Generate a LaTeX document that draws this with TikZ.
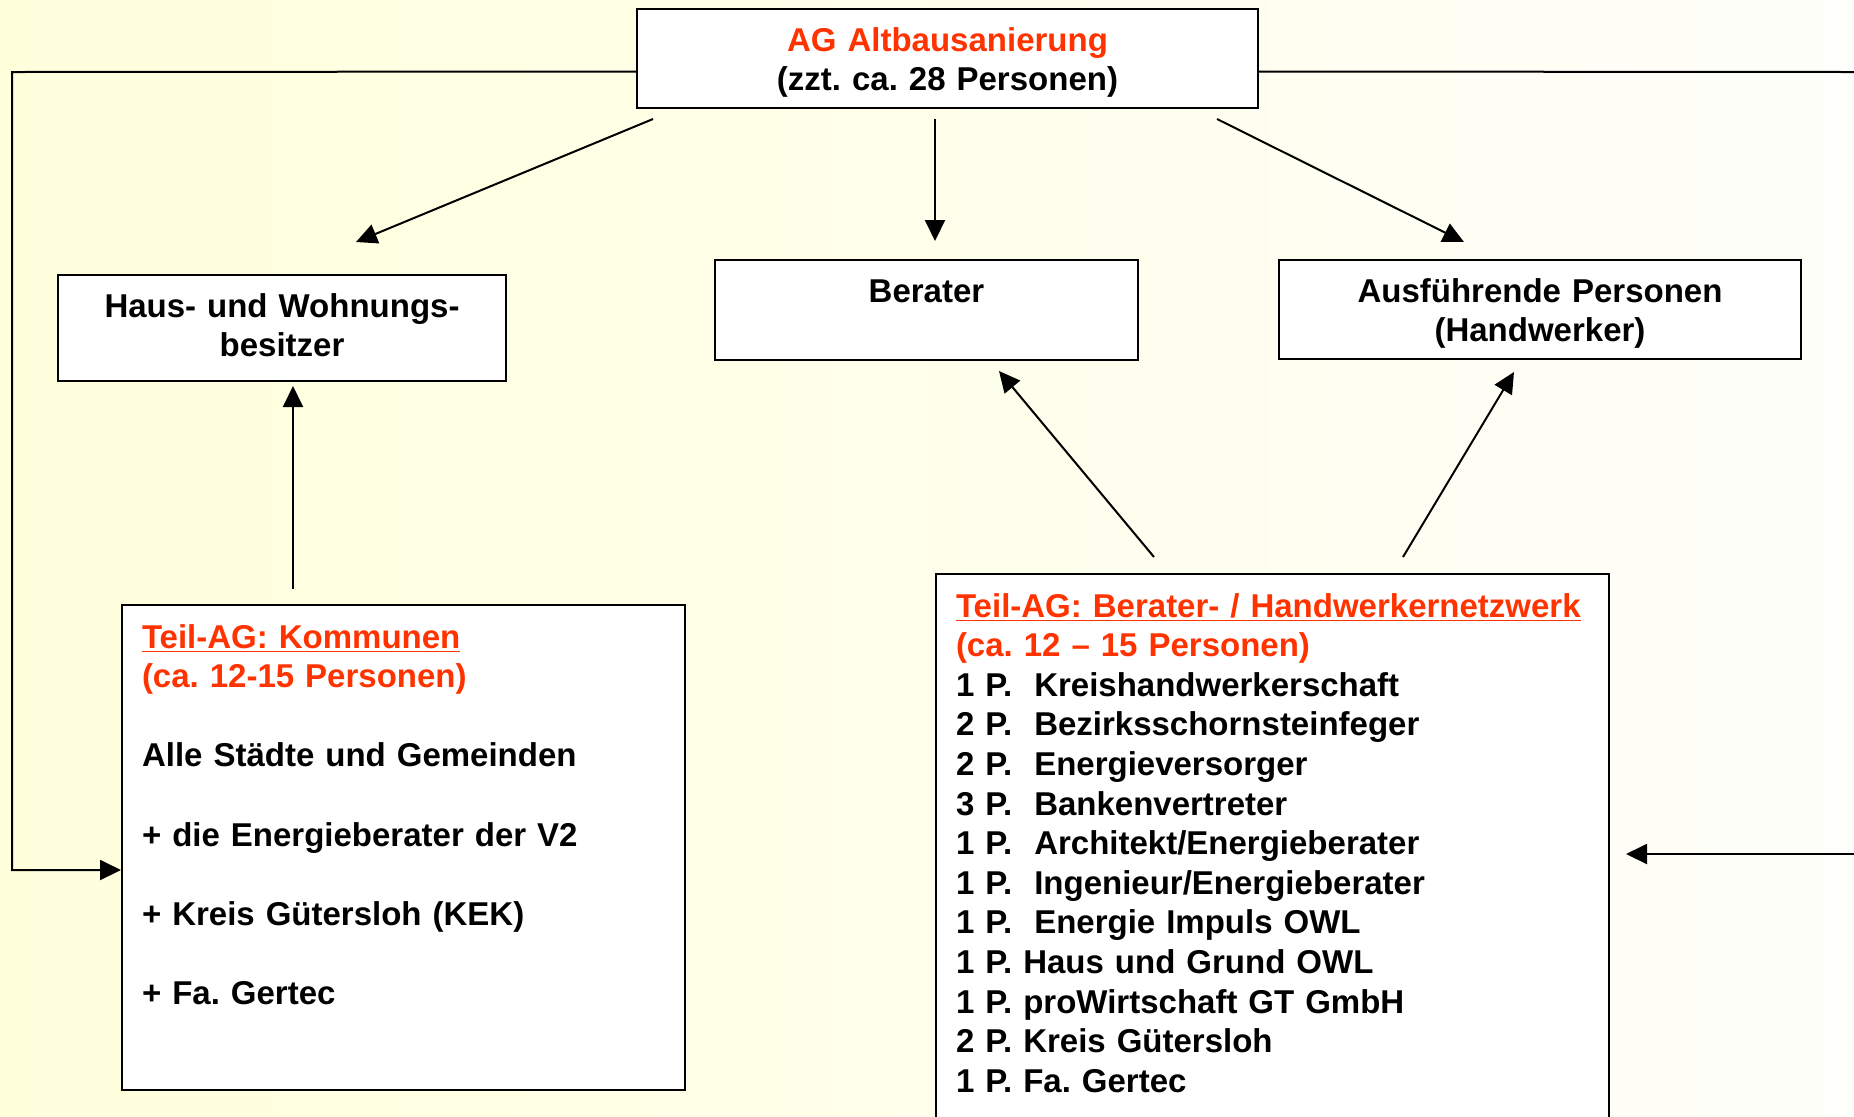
\documentclass[tikz,border=0pt]{standalone}
\usepackage{fontspec}
\setmainfont{Liberation Sans}
\usetikzlibrary{arrows.meta}
\definecolor{agred}{RGB}{255,51,0}
\definecolor{bgleft}{RGB}{255,255,220}
\definecolor{bgright}{RGB}{254,254,250}
\newcommand{\titleline}[1]{\setbox0\hbox{#1}\rlap{\rule[-2.2pt]{\wd0}{0.8pt}}\box0}
\frenchspacing
\begin{document}
\begin{tikzpicture}
[x=0.5pt,y=-0.5pt,
  boxdecorate/.style={draw,line width=1pt,fill=white,inner sep=0pt,align=center,
    text height=21pt,font=\bfseries\fontsize{16.5pt}{19.8pt}\selectfont},
  listdecorate/.style={draw,line width=1pt,fill=white,anchor=north west,
    inner xsep=10pt,inner ysep=9.5pt,align=left,text height=12pt,
    font=\bfseries\fontsize{16.5pt}{19.8pt}\selectfont},
  arrowdecorate/.style={->,>={Triangle[length=10.5pt,width=10pt]},line width=1pt}]
\useasboundingbox (0,0) rectangle (1854,1116);
\clip (0,0) rectangle (1854,1116);
\shade[left color=bgleft,right color=bgright] (0,0) rectangle (1854,1116);
%% boxes
\node (top) at (947.5,58.5) [boxdecorate,text width=310.5pt,text depth=28.5pt]
  {\textcolor{agred}{AG Altbausanierung}\\(zzt. ca. 28 Personen)};
\node (haus) at (282,328) [boxdecorate,text width=224pt,text depth=32pt]
  {Haus- und Wohnungs-\\besitzer};
\node (berater) at (926.5,310) [boxdecorate,text width=211.5pt,text depth=29pt]
  {Berater};
\node (ausf) at (1540,309.5) [boxdecorate,text width=261pt,text depth=28.5pt]
  {Ausführende Personen\\(Handwerker)};
\node (komm) at (121,604) [listdecorate,text width=261.5pt,text depth=211.5pt]
  {\textcolor{agred}{\titleline{Teil-AG: Kommunen}}\\
   \textcolor{agred}{(ca. 12-15 Personen)}\\[19.8pt]
   Alle Städte und Gemeinden\\[19.8pt]
   + die Energieberater der V2\\[19.8pt]
   + Kreis Gütersloh (KEK)\\[19.8pt]
   + Fa. Gertec};
\node (netz) at (935,573) [listdecorate,text width=316.5pt,text depth=252.5pt]
  {\textcolor{agred}{\titleline{Teil-AG: Berater- / Handwerkernetzwerk}}\\
   \textcolor{agred}{(ca. 12 – 15 Personen)}\\
   1 P.\ \ Kreishandwerkerschaft\\
   2 P.\ \ Bezirksschornsteinfeger\\
   2 P.\ \ Energieversorger\\
   3 P.\ \ Bankenvertreter\\
   1 P.\ \ Architekt/Energieberater\\
   1 P.\ \ Ingenieur/Energieberater\\
   1 P.\ \ Energie Impuls OWL\\
   1 P. Haus und Grund OWL\\
   1 P. proWirtschaft GT GmbH\\
   2 P. Kreis Gütersloh\\
   1 P. Fa. Gertec};
%% arrows
\draw[arrowdecorate] ([shift={(17,10)}]top.south west) -- ([shift={(74,-32)}]haus.north);
\draw[arrowdecorate] ([shift={(-12.5,10)}]top.south) -- ([shift={(8.5,-18)}]berater.north);
\draw[arrowdecorate] ([shift={(-42,10)}]top.south east) -- ([shift={(-76,-17)}]ausf.north);
\draw[arrowdecorate] ([shift={(219,-16)}]netz.north west) -- ([shift={(72.5,10)}]berater.south);
\draw[arrowdecorate] ([shift={(468,-16)}]netz.north west) -- ([shift={(-26,12)}]ausf.south);
\draw[arrowdecorate] ([shift={(172,-15)}]komm.north west) -- ([shift={(11,4)}]haus.south);
%% side lines
\coordinate (loopleft) at (12,72);
\coordinate (loopright) at (1854,72);
\coordinate (backright) at (1854,854);
\draw[arrowdecorate] ([shift={(0,13)}]top.west) -- (loopleft) |- ([shift={(0,266)}]komm.north west);
\draw[line width=1pt] ([shift={(0,13)}]top.east) -- (loopright);
\draw[arrowdecorate] (backright) -- ([shift={(16,281)}]netz.north east);
\end{tikzpicture}
\end{document}
